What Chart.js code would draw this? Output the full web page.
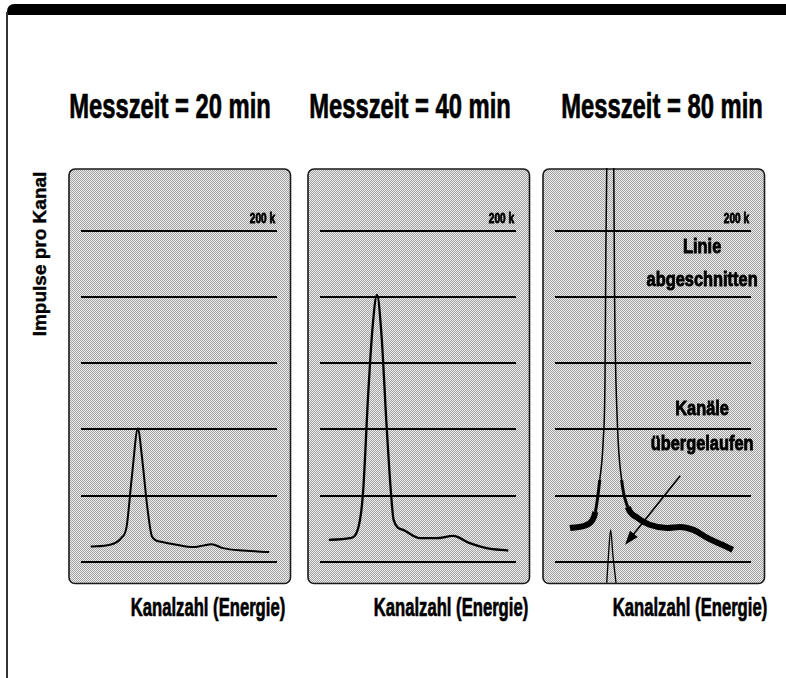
<!DOCTYPE html>
<html>
<head>
<meta charset="utf-8">
<script src="https://cdn.jsdelivr.net/npm/chart.js@4"></script>
<style>
  body { margin: 0; background: #fff; width: 786px; height: 678px; position: relative; overflow: hidden; }
  .bar { position: absolute; left: 7px; top: 4px; width: 779px; height: 11px; background: #000; border-top-left-radius: 7px; }
  .side { position: absolute; left: 6px; top: 12px; width: 2px; height: 666px; background: #333; }
  .panel { position: absolute; top: 168px; }
  .t { position: absolute; white-space: nowrap; font-family: "Liberation Sans", Arial, sans-serif; font-weight: bold; line-height: 1; color: #000; -webkit-text-stroke: 0.7px #000; }
  .title { font-size: 35px; top: 88px; transform: translateX(-50%) scaleX(.68); }
  .xlab { font-size: 26px; top: 594px; transform: translateX(-50%) scaleX(.64); }
  .ylab { font-size: 19px; left: 39px; top: 254px; transform: translate(-50%, -50%) rotate(-90deg); -webkit-text-stroke: 0.4px #000; }
</style>
</head>
<body>
<div class="bar"></div>
<div class="side"></div>

<div class="t title" id="title0" style="left:170px"></div>
<div class="t title" id="title1" style="left:410px"></div>
<div class="t title" id="title2" style="left:662px"></div>
<div class="t ylab" id="ylab"></div>
<div class="t xlab" id="xlab0" style="left:208px"></div>
<div class="t xlab" id="xlab1" style="left:451px"></div>
<div class="t xlab" id="xlab2" style="left:690px"></div>

<canvas class="panel" id="spec20" width="224" height="417" style="left:68px"></canvas>
<canvas class="panel" id="spec40" width="224" height="417" style="left:307px"></canvas>
<canvas class="panel" id="spec80" width="224" height="417" style="left:542px"></canvas>

<script>
const titles = ['Messzeit = 20 min', 'Messzeit = 40 min', 'Messzeit = 80 min'];
const xLabel = 'Kanalzahl (Energie)';
const yLabel = 'Impulse pro Kanal';

// counts in thousands (k Impulse), gridlines every 40 k
const gridTicks = [0, 40, 80, 120, 160, 200];
const topTickLabel = '200 k';

// 20 min
const chan20 = [26, 48, 61, 67, 73, 80, 84, 91, 96, 105, 124, 143, 154, 164, 177, 200, 230];
const imp20 = [9.2, 10.3, 14.5, 21.3, 51.5, 80.8, 65.9, 31.4, 15.3, 12.3, 10.3, 8.9, 9.8, 10.7, 8.3, 6.8, 5.9];

// 40 min
const chan40 = [25, 49, 59, 64, 70, 75, 80, 85, 91, 96, 99, 110, 129, 148, 167, 186, 205, 230];
const imp40 = [13.3, 14.3, 21.3, 41.5, 101.9, 142.2, 161.3, 138.2, 81.8, 41.5, 25.4, 19.3, 14.3, 14.3, 15.7, 11.3, 8.3, 6.8];

// 80 min: peak runs far above the top of the display
const chan80 = [32, 55, 61, 66, 70, 72, 73, 74, 79, 82, 83, 86, 91, 98, 109, 123, 143, 158, 173, 189, 206, 218];
const imp80 = [20.4, 23.6, 30.2, 49.5, 73.7, 110, 188.5, 238, 330, 238, 158, 85.8, 49.5, 33.2, 26.6, 22.4, 20.5, 21.1, 19.3, 14.5, 10.3, 7.3];

// overflowed channels (counter wrapped around)
const chanOver = [74, 76, 78.5, 81, 84.6];
const impOver = [-12.7, 4.2, 19.3, 4.2, -12.7];

titles.forEach((s, i) => { document.getElementById('title' + i).textContent = s; });
for (let i = 0; i < 3; i++) document.getElementById('xlab' + i).textContent = xLabel;
document.getElementById('ylab').textContent = yLabel;

// fine halftone used as panel background
const dots = document.createElement('canvas');
dots.width = 2; dots.height = 2;
const dctx = dots.getContext('2d');
dctx.fillStyle = '#ececec'; dctx.fillRect(0, 0, 2, 2);
dctx.fillStyle = '#a2a2a2'; dctx.fillRect(0, 0, 1, 1); dctx.fillRect(1, 1, 1, 1);

const FONT = '"Liberation Sans", Arial, sans-serif';

function squeezedText(ctx, text, x, y, size, squeeze, align) {
  ctx.save();
  ctx.translate(x, y);
  ctx.scale(squeeze, 1);
  ctx.font = 'bold ' + size + 'px ' + FONT;
  ctx.textAlign = align;
  ctx.textBaseline = 'middle';
  ctx.fillStyle = '#000';
  ctx.strokeStyle = '#000';
  ctx.lineWidth = 0.9;
  ctx.fillText(text, 0, 0);
  ctx.strokeText(text, 0, 0);
  ctx.restore();
}

function roundedRect(ctx, x, y, w, h, r) {
  ctx.beginPath();
  ctx.moveTo(x + r, y);
  ctx.arcTo(x + w, y, x + w, y + h, r);
  ctx.arcTo(x + w, y + h, x, y + h, r);
  ctx.arcTo(x, y + h, x, y, r);
  ctx.arcTo(x, y, x + w, y, r);
  ctx.closePath();
}

const panelPlugin = {
  id: 'panel',
  beforeDraw(chart) {
    const { ctx, chartArea: a } = chart;
    ctx.save();
    roundedRect(ctx, a.left + 1, a.top + 1, a.width - 2.5, a.height - 2.5, 6);
    ctx.fillStyle = ctx.createPattern(dots, 'repeat');
    ctx.fill();
    ctx.lineWidth = 1.6;
    ctx.strokeStyle = '#1a1a1a';
    ctx.stroke();
    ctx.restore();
  },
  beforeDatasetsDraw(chart) {
    const { ctx, chartArea: a, scales: { y } } = chart;
    ctx.save();
    ctx.strokeStyle = '#000';
    ctx.lineWidth = 2;
    gridTicks.forEach(t => {
      const py = Math.round(y.getPixelForValue(t));
      ctx.beginPath();
      ctx.moveTo(a.left + 13, py);
      ctx.lineTo(a.right - 15, py);
      ctx.stroke();
    });
    ctx.restore();
    squeezedText(ctx, topTickLabel, a.right - 17, y.getPixelForValue(200) - 12, 14, 0.72, 'right');
  },
  afterDatasetsDraw(chart, args, opts) {
    const { ctx, scales: { x, y } } = chart;
    (opts.notes || []).forEach(n => {
      squeezedText(ctx, n.text, x.getPixelForValue(n.x), y.getPixelForValue(n.y), 21, 0.78, 'center');
    });
    if (opts.arrow) {
      const x0 = x.getPixelForValue(opts.arrow.from[0]), y0 = y.getPixelForValue(opts.arrow.from[1]);
      const x1 = x.getPixelForValue(opts.arrow.to[0]), y1 = y.getPixelForValue(opts.arrow.to[1]);
      const ang = Math.atan2(y1 - y0, x1 - x0);
      ctx.save();
      ctx.strokeStyle = '#000';
      ctx.fillStyle = '#000';
      ctx.lineWidth = 1.6;
      ctx.beginPath();
      ctx.moveTo(x0, y0);
      ctx.lineTo(x1 - 8 * Math.cos(ang), y1 - 8 * Math.sin(ang));
      ctx.stroke();
      ctx.beginPath();
      ctx.moveTo(x1, y1);
      ctx.lineTo(x1 - 14 * Math.cos(ang) + 5 * Math.sin(ang), y1 - 14 * Math.sin(ang) - 5 * Math.cos(ang));
      ctx.lineTo(x1 - 14 * Math.cos(ang) - 5 * Math.sin(ang), y1 - 14 * Math.sin(ang) + 5 * Math.cos(ang));
      ctx.closePath();
      ctx.fill();
      ctx.restore();
    }
  }
};

function points(xs, ys) {
  return xs.map((c, i) => ({ x: c, y: ys[i] }));
}

function spectrum(id, datasets, panelOpts) {
  return new Chart(document.getElementById(id), {
    type: 'line',
    data: { datasets },
    options: {
      responsive: false,
      animation: false,
      layout: { padding: 0 },
      elements: { point: { radius: 0 }, line: { cubicInterpolationMode: 'monotone' } },
      scales: {
        x: { type: 'linear', display: false, min: 0, max: 256 },
        y: { display: false, min: -14, max: 238 }
      },
      plugins: { legend: { display: false }, tooltip: { enabled: false }, panel: panelOpts || {} }
    },
    plugins: [panelPlugin]
  });
}

spectrum('spec20', [
  { label: '20 min', data: points(chan20, imp20), borderColor: '#000', borderWidth: 2 }
]);

spectrum('spec40', [
  { label: '40 min', data: points(chan40, imp40), borderColor: '#000', borderWidth: 2.3 }
]);

spectrum('spec80', [
  {
    label: '80 min', data: points(chan80, imp80), borderColor: '#000', borderWidth: 1.5,
    segment: { borderWidth: c => (c.p0.parsed.y < 36 && c.p1.parsed.y < 36) ? 6 : (c.p0.parsed.y < 55 && c.p1.parsed.y < 55 ? 3 : 1.5) }
  },
  { label: 'übergelaufen', data: points(chanOver, impOver), borderColor: '#000', borderWidth: 1.3 }
], {
  notes: [
    { text: 'Linie', x: 183, y: 190 },
    { text: 'abgeschnitten', x: 183, y: 170 },
    { text: 'Kanäle', x: 183, y: 92 },
    { text: 'übergelaufen', x: 183, y: 71 }
  ],
  arrow: { from: [158, 52], to: [95, 10.3] }
});
</script>
</body>
</html>
